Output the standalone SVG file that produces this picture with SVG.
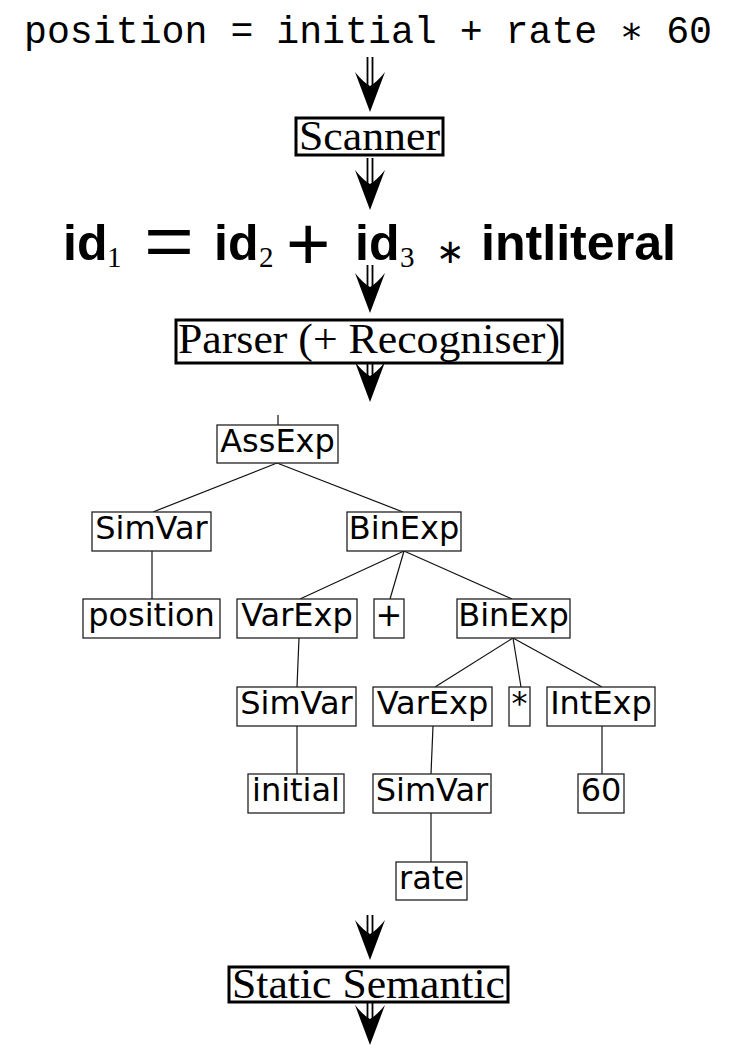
<svg xmlns="http://www.w3.org/2000/svg" width="730" height="1050" viewBox="0 0 730 1050">
<style>
.stage{fill:#fff;stroke:#000;stroke-width:3}
.stxt{font-family:"Liberation Serif","Times New Roman",serif;font-size:42px;fill:#000}
.nb{fill:#fff;stroke:#222;stroke-width:1.3}
.nt{font-family:"DejaVu Sans",sans-serif;font-size:32px;fill:#000;text-anchor:middle}
.edge{stroke:#111;stroke-width:1.2;fill:none}
.shaft{stroke:#000;stroke-width:1.8;fill:none}
.code{font-family:"Liberation Mono","Courier New",monospace;font-size:38px;fill:#000}
.fb{font-family:"Liberation Sans",Arial,sans-serif;font-weight:bold;font-size:50px;fill:#000}
.fm{font-family:"Liberation Sans",Arial,sans-serif;font-weight:normal;fill:#000}
.fs{font-family:"Liberation Serif","Times New Roman",serif;font-size:29px;fill:#000}
</style>
<defs>
<g id="head"><path d="M0,0 L-15,-40 Q-7,-30 0,-26 Q7,-30 15,-40 Z" fill="#000"/></g>
</defs>
<rect width="730" height="1050" fill="#fff"/>

<g id="source">
<text class="code" x="24" y="43" textLength="688" lengthAdjust="spacingAndGlyphs">position = initial + rate ∗ 60</text>
</g>

<g id="tokens">
<text class="fb" x="63" y="260">id</text>
<text class="fs" x="107" y="267">1</text>
<text class="fm" x="144" y="266" style="font-size:74px" textLength="50" lengthAdjust="spacingAndGlyphs">=</text>
<text class="fb" x="214" y="260">id</text>
<text class="fs" x="259" y="267">2</text>
<text class="fm" x="286" y="270" style="font-size:76px">+</text>
<text class="fb" x="355" y="260">id</text>
<text class="fs" x="400" y="267">3</text>
<text class="fs" x="436" y="263" style="font-size:34px">∗</text>
<text class="fb" x="481" y="260" textLength="195" lengthAdjust="spacingAndGlyphs">intliteral</text>
</g>

<g id="scanner">
<rect class="stage" x="296" y="118" width="147" height="37"/>
<text class="stxt" x="299" y="150" textLength="141" lengthAdjust="spacingAndGlyphs">Scanner</text>
</g>

<g id="parser">
<rect class="stage" x="176" y="320" width="386" height="43"/>
<text class="stxt" x="178" y="353" textLength="382" lengthAdjust="spacingAndGlyphs">Parser (+ Recogniser)</text>
</g>

<g id="static-semantic">
<rect class="stage" x="229" y="967" width="279" height="35"/>
<text class="stxt" x="232" y="998" textLength="273" lengthAdjust="spacingAndGlyphs">Static Semantic</text>
</g>

<g id="connectors">
<g id="stage-arrows">
<path class="shaft" d="M367.5,57 V90 M372.5,57 V90"/>
<use href="#head" transform="translate(370,112)"/>
<path class="shaft" d="M367.5,158 V190 M372.5,158 V190"/>
<use href="#head" transform="translate(370,210)"/>
<path class="shaft" d="M367.5,265 V292 M372.5,265 V292"/>
<use href="#head" transform="translate(370,313)"/>
<path class="shaft" d="M367.5,362 V382 M372.5,362 V382"/>
<use href="#head" transform="translate(370,402)"/>
<path class="shaft" d="M367.5,915 V940 M372.5,915 V940"/>
<use href="#head" transform="translate(370,960)"/>
<path class="shaft" d="M367.5,1002 V1025 M372.5,1002 V1025"/>
<use href="#head" transform="translate(370,1045)"/>
</g>
<g id="tree-edges">
<path class="edge" d="M278,415 V425"/>
<path class="edge" d="M277,463 L153,512"/>
<path class="edge" d="M277,463 L403,512"/>
<path class="edge" d="M152,551 V599"/>
<path class="edge" d="M404,551 L300,599"/>
<path class="edge" d="M404,551 L390,599"/>
<path class="edge" d="M404,551 L512,599"/>
<path class="edge" d="M299,638 L298,662 L297,687"/>
<path class="edge" d="M513,638 L435,687"/>
<path class="edge" d="M513,638 L521,687"/>
<path class="edge" d="M513,638 L602,687"/>
<path class="edge" d="M297,726 V774"/>
<path class="edge" d="M433,726 L432,750 L431,774"/>
<path class="edge" d="M602,726 V774"/>
<path class="edge" d="M431,813 V862"/>
</g>
</g>

<g id="n-assexp"><rect class="nb" x="217" y="425" width="121" height="38"/><text class="nt" x="277.5" y="452">AssExp</text></g>
<g id="n-simvar1"><rect class="nb" x="92" y="512" width="119" height="39"/><text class="nt" x="151.5" y="539">SimVar</text></g>
<g id="n-binexp1"><rect class="nb" x="347" y="512" width="114" height="39"/><text class="nt" x="404" y="539">BinExp</text></g>
<g id="n-position"><rect class="nb" x="83" y="599" width="137" height="39"/><text class="nt" x="151.5" y="626">position</text></g>
<g id="n-varexp1"><rect class="nb" x="237" y="599" width="120" height="39"/><text class="nt" x="297" y="626">VarExp</text></g>
<g id="n-plus"><rect class="nb" x="374" y="599" width="30" height="39"/><text class="nt" x="389" y="626">+</text></g>
<g id="n-binexp2"><rect class="nb" x="457" y="599" width="113" height="39"/><text class="nt" x="513.5" y="626">BinExp</text></g>
<g id="n-simvar2"><rect class="nb" x="237" y="687" width="119" height="39"/><text class="nt" x="296.5" y="714">SimVar</text></g>
<g id="n-varexp2"><rect class="nb" x="373" y="687" width="119" height="39"/><text class="nt" x="432.5" y="714">VarExp</text></g>
<g id="n-star"><rect class="nb" x="509" y="687" width="21" height="39"/><text class="nt" x="519.5" y="714">*</text></g>
<g id="n-intexp"><rect class="nb" x="547" y="687" width="108" height="39"/><text class="nt" x="601" y="714">IntExp</text></g>
<g id="n-initial"><rect class="nb" x="248" y="774" width="96" height="39"/><text class="nt" x="296" y="801">initial</text></g>
<g id="n-simvar3"><rect class="nb" x="373" y="774" width="118" height="39"/><text class="nt" x="432" y="801">SimVar</text></g>
<g id="n-60"><rect class="nb" x="578" y="774" width="46" height="39"/><text class="nt" x="601" y="801">60</text></g>
<g id="n-rate"><rect class="nb" x="396" y="862" width="71" height="38"/><text class="nt" x="431.5" y="889">rate</text></g>
</svg>
